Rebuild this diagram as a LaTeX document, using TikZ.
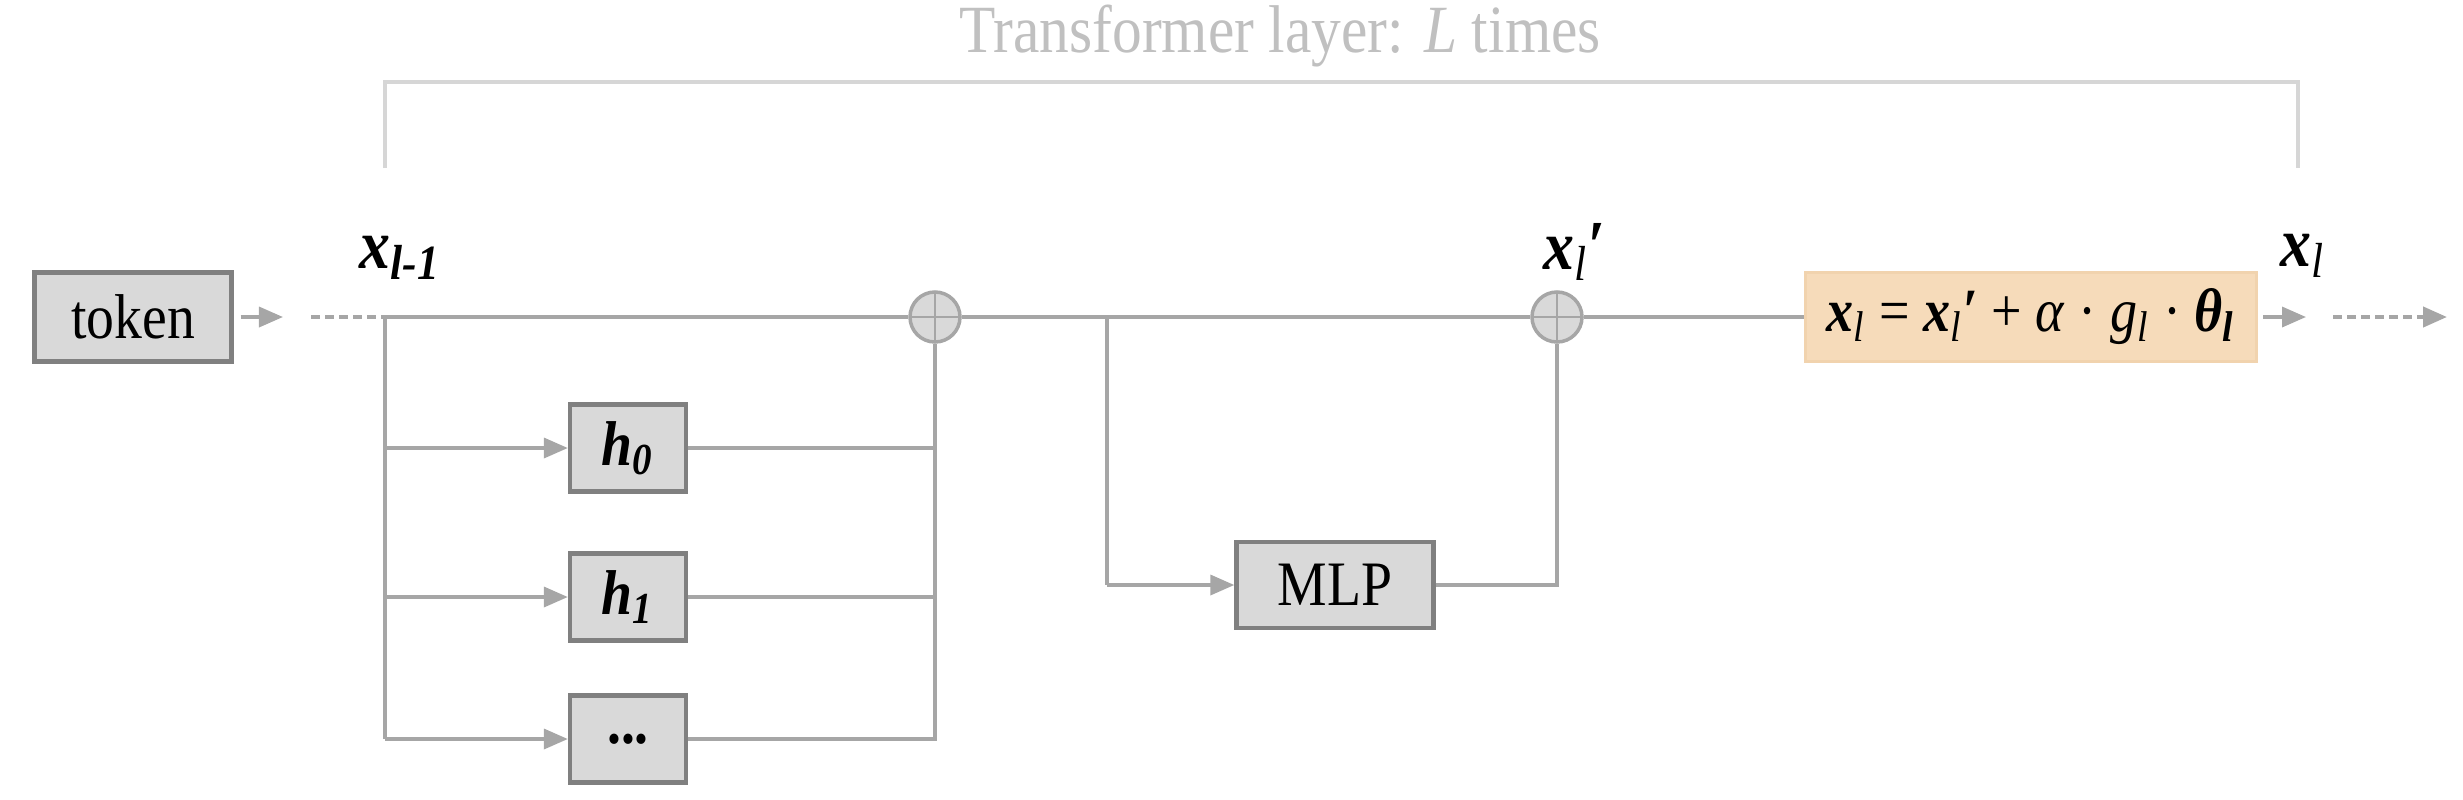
\documentclass[tikz,border=0pt]{standalone}
\usepackage{fontspec}
\setmainfont{Liberation Serif}[FakeStretch=0.88]
\usetikzlibrary{arrows.meta}
\definecolor{linegray}{HTML}{A6A6A6}
\definecolor{boxborder}{HTML}{808080}
\definecolor{boxfill}{HTML}{D9D9D9}
\definecolor{orfill}{HTML}{F6DBBA}
\definecolor{orborder}{HTML}{F1D3AE}
\definecolor{titlegray}{HTML}{C0C0C0}
\definecolor{brgray}{HTML}{D6D6D6}
\newcommand{\bx}[1]{{\bfseries\itshape #1}}
\newcommand{\sbl}[1]{\textsubscript{\itshape #1}}
\tikzset{
  graybox/.style={draw=boxborder, fill=boxfill, line width=1.2pt, inner sep=0pt, font=\fontsize{18}{20}\selectfont},
  conn/.style={draw=linegray, line width=1pt},
  tipstyle/.style={-{Triangle[length=0.24cm,width=0.2cm]}},
  arr/.style={conn, tipstyle},
  dashline/.style={conn, line width=1.2pt, dash pattern=on 0.09cm off 0.05cm},
  plusnode/.style={circle, draw=linegray, fill=boxfill, line width=1pt, minimum size=0.5cm, inner sep=0pt,
    path picture={\draw[linegray, line width=0.8pt] (path picture bounding box.north) -- (path picture bounding box.south)
      (path picture bounding box.west) -- (path picture bounding box.east);}},
  lbl/.style={font=\fontsize{20}{22}\selectfont, inner sep=0pt}
}
\begin{document}
\begin{tikzpicture}[x=0.01cm,y=-0.01cm]
\useasboundingbox (0,0) rectangle (2463,799);
% title and bracket
\node[text=titlegray, font=\fontsize{19.2}{22}\selectfont] (title) at (1280,36) {Transformer layer: \textit{L} times};
\coordinate (b1) at (385,168);
\coordinate (b2) at (385,82);
\coordinate (b3) at (2298,82);
\coordinate (b4) at (2298,168);
\draw[brgray, line width=1pt] (b1) -- (b2) -- (b3) -- (b4);
% boxes
\node[graybox, minimum width=1.97cm, minimum height=0.89cm] (token) at (133,317) {token};
\node[graybox, minimum width=1.16cm, minimum height=0.87cm] (h0) at (628,448) {\bx{h}\textsubscript{\bfseries\itshape 0}};
\node[graybox, minimum width=1.16cm, minimum height=0.87cm] (h1) at (628,597) {\bx{h}\textsubscript{\bfseries\itshape 1}};
\node[graybox, minimum width=1.16cm, minimum height=0.87cm] (hd) at (628,739) {\bfseries ...};
\node[graybox, minimum width=1.97cm, minimum height=0.86cm] (mlp) at (1335,585) {MLP};
\node[draw=orborder, fill=orfill, line width=1pt, minimum width=4.51cm, minimum height=0.89cm, inner sep=0pt,
  font=\fontsize{17.5}{20}\selectfont] (eq) at (2031,317)
  {\bx{x}\sbl{l} = \bx{x}\sbl{l}\textbf{′} + \textit{α} · \textit{g}\sbl{l} · \bx{θ}\textsubscript{\bfseries\itshape l}};
\node[plusnode] (p1) at (935,317) {};
\node[plusnode] (p2) at (1557,317) {};
% labels
\node[lbl] (lx1) at (400,258) {\bx{x}\textsubscript{\bfseries\itshape l-1}};
\node[lbl] (lx2) at (1575,252) {\bx{x}\sbl{l}\textbf{′}};
\node[lbl] (lx3) at (2303,256) {\bx{x}\sbl{l}};
% input
\coordinate (a1) at (283,317);
\coordinate (d0) at (311,317);
\coordinate (j0) at (385,317);
\draw[arr] ([xshift=0.07cm]token.east) -- (a1);
\draw[dashline] (d0) -- (j0);
% main line
\draw[conn] (j0) -- (p1.west);
\draw[conn] (p1.east) -- (p2.west);
\draw[conn] (p2.east) -- (eq.west);
% attention heads
\coordinate (jb) at (385,739);
\coordinate (r0) at (935,448);
\coordinate (r1) at (935,597);
\coordinate (rb) at (935,739);
\draw[conn] (j0) -- (jb);
\draw[arr] (j0 |- h0) -- (h0.west);
\draw[arr] (j0 |- h1) -- (h1.west);
\draw[arr] (jb) -- (hd.west);
\draw[conn] (h0.east) -- (r0);
\draw[conn] (h1.east) -- (r1);
\draw[conn] (hd.east) -- (rb) -- (p1.south);
% MLP
\coordinate (j1) at (1107,317);
\coordinate (j1b) at (1107,585);
\coordinate (m1) at (1557,585);
\draw[conn] (j1) -- (j1b);
\draw[arr] (j1b) -- (mlp.west);
\draw[conn] (mlp.east) -- (m1) -- (p2.south);
% output
\coordinate (o1) at (2306,317);
\coordinate (o2) at (2333,317);
\coordinate (o3) at (2447,317);
\draw[arr] ([xshift=0.05cm]eq.east) -- (o1);
\draw[dashline, tipstyle] (o2) -- (o3);
\end{tikzpicture}
\end{document}
